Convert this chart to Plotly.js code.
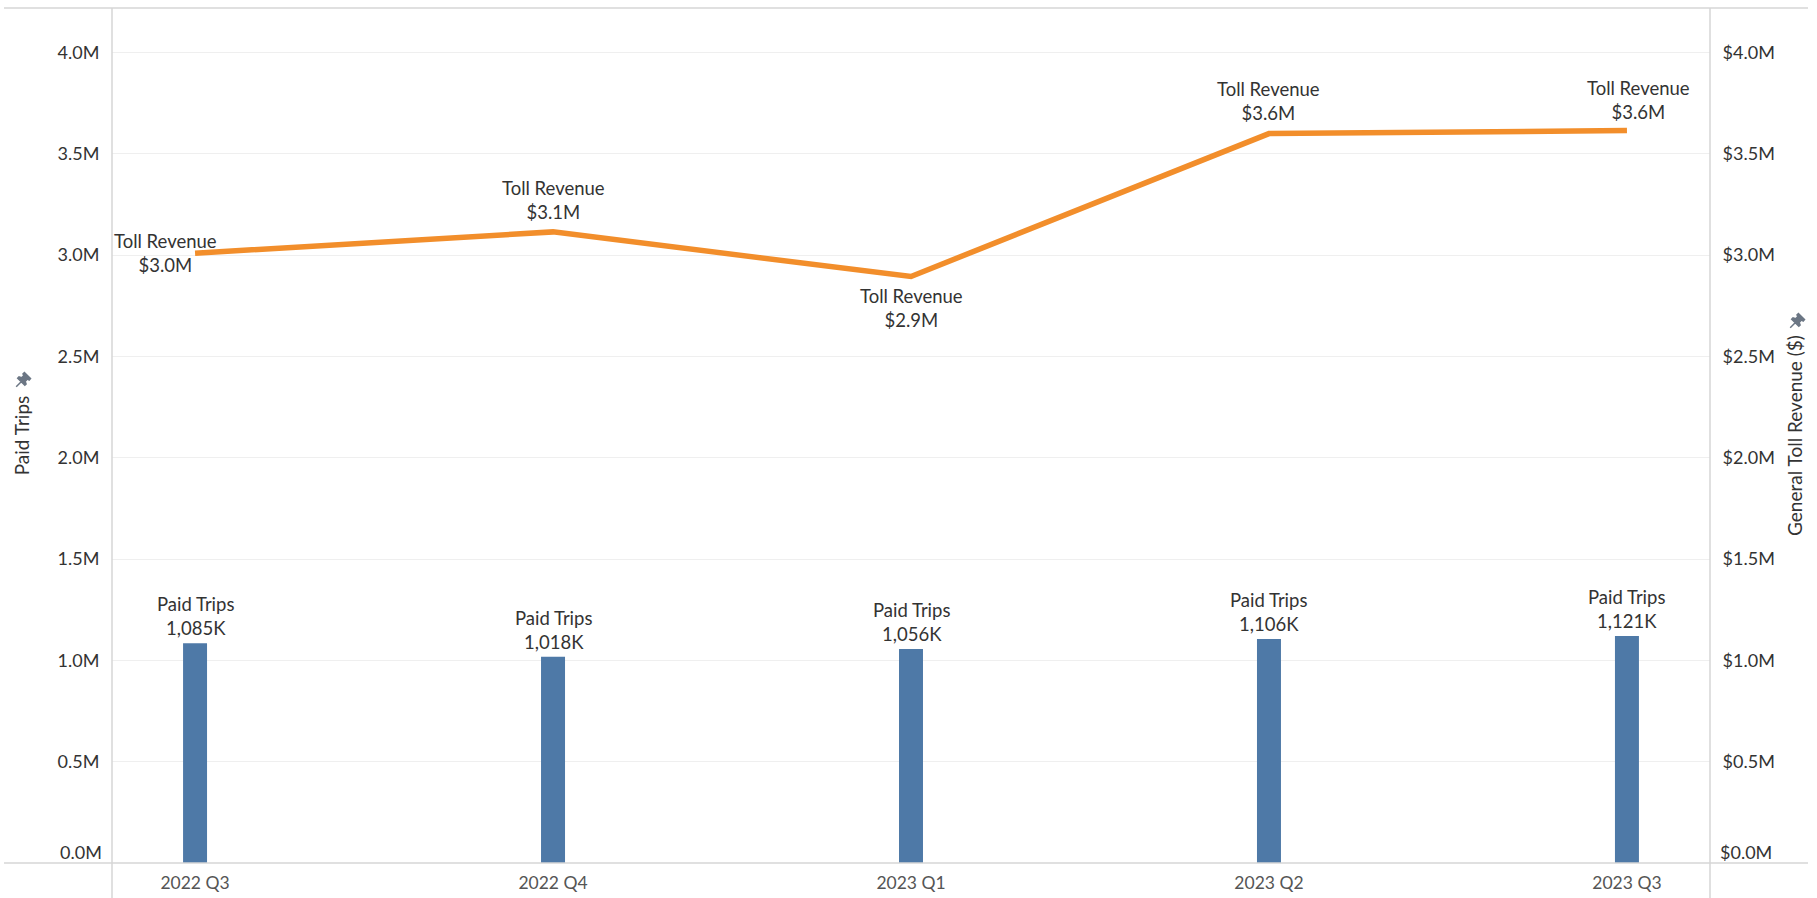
<!DOCTYPE html>
<html>
<head>
<meta charset="utf-8">
<script src="https://cdn.plot.ly/plotly-3.0.1.min.js"></script>
<style>html,body{margin:0;padding:0;background:#fff;}#chart{width:1817px;height:898px;}</style>
</head>
<body>
<div id="chart"></div>
<script>
// ---- data ----
const quarters = ['2022 Q3', '2022 Q4', '2023 Q1', '2023 Q2', '2023 Q3'];
const paidTrips = [1085000, 1018000, 1056000, 1106000, 1121000];
const tollRevenue = [3010000, 3115000, 2895000, 3600000, 3615000];
const axisTickValues = [0, 500000, 1000000, 1500000, 2000000, 2500000, 3000000, 3500000, 4000000];
const leftTickText = ['', '0.5M', '1.0M', '1.5M', '2.0M', '2.5M', '3.0M', '3.5M', '4.0M'];
const rightTickText = ['', '$0.5M', '$1.0M', '$1.5M', '$2.0M', '$2.5M', '$3.0M', '$3.5M', '$4.0M'];
const leftZeroLabel = '0.0M';
const rightZeroLabel = '$0.0M';

// ---- label placement (pixels) ----
const revLabelShift = [[-30, 0], [0, 32], [0, -32], [0, 33], [12, 31]];
const tripLabelShift = 27;

const FONT = 'Lato, "Open Sans", sans-serif';
const TXT = '#333333';

const traces = [
  {
    type: 'bar', x: quarters, y: paidTrips, name: 'Paid Trips',
    marker: {color: '#4E79A7'}, width: 0.067, yaxis: 'y', hoverinfo: 'x+y'
  },
  {
    type: 'scatter', mode: 'lines', x: quarters, y: tollRevenue, name: 'General Toll Revenue ($)',
    line: {color: '#F28E2B', width: 5.5}, yaxis: 'y2', hoverinfo: 'x+y'
  }
];

const annotations = [];
quarters.forEach((q, i) => {
  annotations.push({
    x: q, y: paidTrips[i], xref: 'x', yref: 'y', showarrow: false,
    text: 'Paid Trips<br>' + Math.round(paidTrips[i] / 1000).toLocaleString('en-US') + 'K',
    xanchor: 'center', yanchor: 'middle', yshift: tripLabelShift,
    font: {family: FONT, size: 18.5, color: TXT}
  });
  annotations.push({
    x: q, y: tollRevenue[i], xref: 'x', yref: 'y2', showarrow: false,
    text: 'Toll Revenue<br>$' + (tollRevenue[i] / 1e6).toFixed(1) + 'M',
    xanchor: 'center', yanchor: 'middle',
    xshift: revLabelShift[i][0], yshift: revLabelShift[i][1],
    font: {family: FONT, size: 18.5, color: TXT}
  });
});
// zero tick labels sit just above the baseline, as in the original
annotations.push({x: 0, xref: 'paper', y: axisTickValues[0], yref: 'y', text: leftZeroLabel, showarrow: false,
  xanchor: 'right', yanchor: 'middle', xshift: -8, yshift: 11, font: {family: FONT, size: 18, color: TXT}});
annotations.push({x: 1, xref: 'paper', y: axisTickValues[0], yref: 'y2', text: rightZeroLabel, showarrow: false,
  xanchor: 'left', yanchor: 'middle', xshift: 8, yshift: 11, font: {family: FONT, size: 18, color: TXT}});

const borderColor = '#d6d6d6';
const xl = (4 - 112) / 1598, xr = (1808 - 112) / 1598, yb = (863 - 898) / 855;
const pinPath = 'M -5.3 1.8 L 1.8 -5.3 L 3.1 -4 L 2.2 -1.4 L 4.4 0.9 L 6.2 0 L 7.5 1.4 L 1.4 7.5 L 0 6.2 L 0.9 4.4 L -1.4 2.2 L -4 3.1 Z M -1.8 -1.8 L -6.8 -6.8';
const pinStyle = {fillcolor: '#6b7684', line: {color: '#6b7684', width: 1.5}};
const shapes = [
  {type: 'line', xref: 'paper', yref: 'paper', x0: xl, x1: xr, y0: 1, y1: 1, line: {color: borderColor, width: 1.5}},
  {type: 'line', xref: 'paper', yref: 'paper', x0: xl, x1: xr, y0: 0, y1: 0, line: {color: borderColor, width: 1.5}},
  {type: 'line', xref: 'paper', yref: 'paper', x0: 0, x1: 0, y0: yb, y1: 1, line: {color: borderColor, width: 1.5}},
  {type: 'line', xref: 'paper', yref: 'paper', x0: 1, x1: 1, y0: yb, y1: 1, line: {color: borderColor, width: 1.5}},
  Object.assign({type: 'path', xref: 'paper', yref: 'paper', xsizemode: 'pixel', ysizemode: 'pixel',
    xanchor: (23 - 112) / 1598, yanchor: (863 - 380) / 855, path: pinPath}, pinStyle),
  Object.assign({type: 'path', xref: 'paper', yref: 'paper', xsizemode: 'pixel', ysizemode: 'pixel',
    xanchor: (1797 - 112) / 1598, yanchor: (863 - 321) / 855, path: pinPath}, pinStyle)
];

const layout = {
  width: 1817, height: 898,
  margin: {l: 112, r: 107, t: 8, b: 35},
  paper_bgcolor: '#ffffff', plot_bgcolor: '#ffffff',
  showlegend: false,
  font: {family: FONT, color: TXT},
  xaxis: {
    type: 'category', range: [-0.232, 4.232], showgrid: false, zeroline: false, showline: false,
    ticks: 'outside', ticklen: 4, tickcolor: 'rgba(0,0,0,0)',
    tickfont: {family: FONT, size: 17.5, color: '#555555'}
  },
  yaxis: {
    range: [0, 4220000], tickvals: axisTickValues, ticktext: leftTickText,
    showgrid: true, gridcolor: '#efefef', gridwidth: 1, zeroline: false, showline: false,
    ticks: 'outside', ticklen: 8, tickcolor: 'rgba(0,0,0,0)',
    tickfont: {family: FONT, size: 18, color: TXT},
    title: {text: 'Paid Trips', font: {family: FONT, size: 19, color: TXT}, standoff: 22}
  },
  yaxis2: {
    overlaying: 'y', side: 'right',
    range: [0, 4220000], tickvals: axisTickValues, ticktext: rightTickText,
    showgrid: false, zeroline: false, showline: false,
    ticks: 'outside', ticklen: 8, tickcolor: 'rgba(0,0,0,0)',
    tickfont: {family: FONT, size: 18, color: TXT},
    title: {text: 'General Toll Revenue ($)', font: {family: FONT, size: 19, color: TXT}, standoff: 14}
  },
  annotations: annotations,
  shapes: shapes
};

Plotly.newPlot('chart', traces, layout, {displayModeBar: false, staticPlot: true});
</script>
</body>
</html>
